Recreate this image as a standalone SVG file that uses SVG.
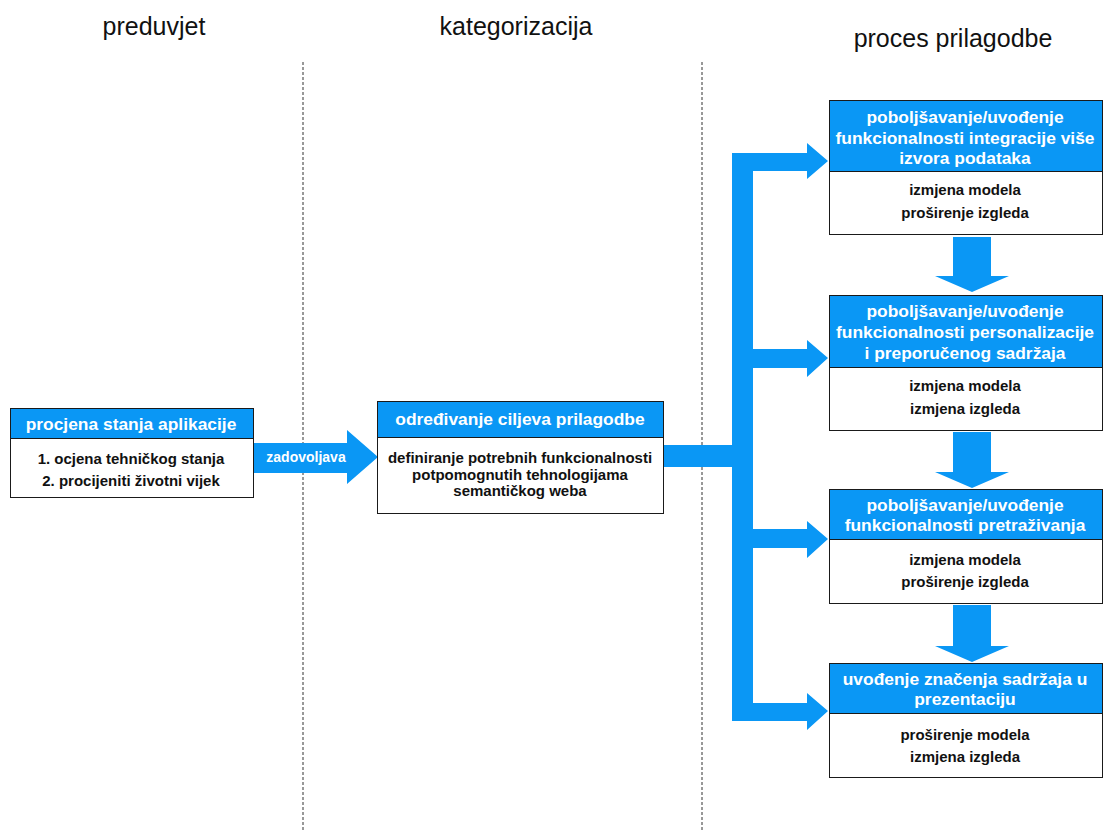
<svg xmlns="http://www.w3.org/2000/svg" width="1103" height="830" viewBox="0 0 1103 830">
<style>
.bg{fill:#ffffff}
.col{font-family:"Liberation Sans",Arial,sans-serif;font-size:25px;fill:#111;text-anchor:middle}
.div{stroke:#333;stroke-width:1;stroke-dasharray:3,2;fill:none}
.box{fill:#ffffff;stroke:#1a1a1a;stroke-width:1}
.hdr{fill:#0a97f5;stroke:#1a1a1a;stroke-width:1}
.ht{font-family:"Liberation Sans",Arial,sans-serif;font-size:17.4px;font-weight:bold;fill:#ffffff;text-anchor:middle}
.bt{font-family:"Liberation Sans",Arial,sans-serif;font-size:15px;font-weight:bold;fill:#111;text-anchor:middle}
.arr{fill:#0a97f5}
.lbl{font-family:"Liberation Sans",Arial,sans-serif;font-size:14px;font-weight:bold;fill:#ffffff;text-anchor:middle}
</style>
<rect class="bg" x="0" y="0" width="1103" height="830"/>
<g id="columns">
<text class="col" x="154" y="35">preduvjet</text>
<text class="col" x="516" y="35">kategorizacija</text>
<text class="col" x="953" y="47">proces prilagodbe</text>
<line class="div" x1="303" y1="62" x2="303" y2="830"/>
<line class="div" x1="702" y1="62" x2="702" y2="830"/>
</g>
<g id="connectors">
<path class="arr" d="M253,443 H347 V430 L378,457 L347,484 V473 H253 Z"/>
<text class="lbl" x="306" y="462">zadovoljava</text>
<path class="arr" d="M663,445 H732 V153 H807 V143 L828,161 L807,179 V171 H753 V349 H807 V340 L828,358 L807,377 V368 H753 V529 H807 V521 L828,539 L807,558 V548 H753 V703 H807 V693 L828,711 L807,730 V721 H732 V467 H663 Z"/>
<path class="arr" d="M953,237 H991 V276 H1009 L972,292 L935,276 H953 Z"/>
<path class="arr" d="M953,432 H991 V472 H1009 L972,488 L935,472 H953 Z"/>
<path class="arr" d="M953,605 H991 V646 H1009 L972,662 L935,646 H953 Z"/>
</g>
<g id="node-procjena">
<rect class="box" x="10.5" y="408.5" width="243" height="89"/>
<rect class="hdr" x="10.5" y="408.5" width="243" height="30"/>
<text class="ht" x="131" y="430">procjena stanja aplikacije</text>
<text class="bt" x="131" y="464">1. ocjena tehničkog stanja</text>
<text class="bt" x="131" y="486">2. procijeniti životni vijek</text>
</g>
<g id="node-odredivanje">
<rect class="box" x="377.5" y="401.5" width="286" height="112"/>
<rect class="hdr" x="377.5" y="401.5" width="286" height="36"/>
<text class="ht" x="520" y="425">određivanje ciljeva prilagodbe</text>
<text class="bt" x="520" y="463">definiranje potrebnih funkcionalnosti</text>
<text class="bt" x="520" y="480">potpomognutih tehnologijama</text>
<text class="bt" x="520" y="496">semantičkog weba</text>
</g>
<g id="node-integracija">
<rect class="box" x="829.5" y="100.5" width="273" height="134"/>
<rect class="hdr" x="829.5" y="100.5" width="273" height="71"/>
<text class="ht" x="965" y="123">poboljšavanje/uvođenje</text>
<text class="ht" x="965" y="144">funkcionalnosti integracije više</text>
<text class="ht" x="965" y="164">izvora podataka</text>
<text class="bt" x="965" y="195">izmjena modela</text>
<text class="bt" x="965" y="218">proširenje izgleda</text>
</g>
<g id="node-personalizacija">
<rect class="box" x="829.5" y="295.5" width="273" height="135"/>
<rect class="hdr" x="829.5" y="295.5" width="273" height="72"/>
<text class="ht" x="965" y="317">poboljšavanje/uvođenje</text>
<text class="ht" x="965" y="338">funkcionalnosti personalizacije</text>
<text class="ht" x="965" y="359">i preporučenog sadržaja</text>
<text class="bt" x="965" y="391">izmjena modela</text>
<text class="bt" x="965" y="414">izmjena izgleda</text>
</g>
<g id="node-pretrazivanje">
<rect class="box" x="829.5" y="489.5" width="273" height="114"/>
<rect class="hdr" x="829.5" y="489.5" width="273" height="50"/>
<text class="ht" x="965" y="511">poboljšavanje/uvođenje</text>
<text class="ht" x="965" y="531">funkcionalnosti pretraživanja</text>
<text class="bt" x="965" y="565">izmjena modela</text>
<text class="bt" x="965" y="587">proširenje izgleda</text>
</g>
<g id="node-znacenje">
<rect class="box" x="829.5" y="663.5" width="273" height="114"/>
<rect class="hdr" x="829.5" y="663.5" width="273" height="50"/>
<text class="ht" x="965" y="685">uvođenje značenja sadržaja u</text>
<text class="ht" x="965" y="705">prezentaciju</text>
<text class="bt" x="965" y="740">proširenje modela</text>
<text class="bt" x="965" y="762">izmjena izgleda</text>
</g>
</svg>
